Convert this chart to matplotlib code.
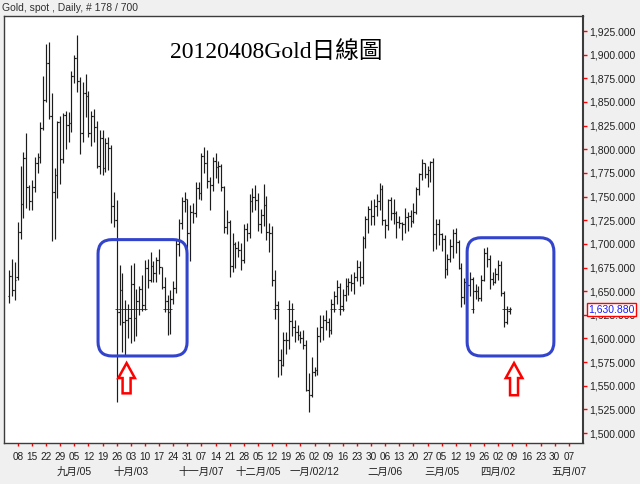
import numpy as np
import pandas as pd
import matplotlib
matplotlib.use("Agg")
import matplotlib.pyplot as plt
from matplotlib.patches import FancyBboxPatch, Polygon
from matplotlib.transforms import IdentityTransform, blended_transform_factory


# daily bars, Aug 03 2011 .. Apr 06 2012 (one value per business day)
START_DATE = "2011-08-03"
END_DATE = "2012-04-06"

OPEN = [
    # Aug
    1645, 1666, 1651, 1665, 1713, 1742, 1791, 1760, 1745, 1760, 1786, 1792, 1822, 1852, 1891, 1835, 1755, 1773, 1829, 1790, 1836,
    # Sep
    1826, 1828, 1877, 1896, 1872, 1817, 1860, 1856, 1817, 1835, 1824, 1782, 1812, 1780, 1807, 1801, 1740, 1725, 1628, 1651, 1617, 1620,
    # Oct
    1622, 1658, 1622, 1640, 1652, 1635, 1675, 1662, 1677, 1669, 1683, 1676, 1654, 1640, 1628, 1642, 1653, 1700, 1722, 1745, 1747,
    # Nov
    1712, 1734, 1733, 1759, 1754, 1793, 1786, 1766, 1762, 1788, 1781, 1782, 1760, 1718, 1723, 1677, 1700, 1696, 1694, 1683, 1716, 1711,
    # Dec
    1745, 1750, 1746, 1721, 1731, 1741, 1713, 1712, 1662, 1635, 1577, 1572, 1598, 1598, 1619, 1612, 1607, 1604, 1600, 1593, 1546, 1540,
    # Jan
    1565, 1567, 1603, 1612, 1620, 1617, 1609, 1636, 1645, 1654, 1634, 1646, 1655, 1660, 1659, 1665, 1676, 1665, 1706, 1726, 1737, 1730,
    # Feb
    1740, 1745, 1758, 1725, 1720, 1746, 1733, 1733, 1723, 1722, 1721, 1728, 1730, 1724, 1734, 1758, 1774, 1786, 1774, 1778, 1787,
    # Mar
    1710, 1721, 1710, 1705, 1673, 1684, 1698, 1712, 1702, 1675, 1644, 1660, 1657, 1663, 1650, 1650, 1643, 1662, 1690, 1684, 1663, 1660,
    # Apr
    1668, 1678, 1648, 1617, 1629,
]

HIGH = [
    1672, 1684, 1681, 1723, 1782, 1797, 1817, 1762, 1768, 1792, 1796, 1829, 1878, 1911, 1913, 1860, 1780, 1830, 1835, 1838, 1841,
    1839, 1883, 1900, 1921, 1876, 1871, 1880, 1862, 1840, 1843, 1830, 1820, 1820, 1812, 1813, 1805, 1755, 1746, 1678, 1669, 1641, 1636,
    1678, 1680, 1652, 1656, 1667, 1683, 1684, 1691, 1682, 1686, 1695, 1676, 1665, 1646, 1651, 1661, 1705, 1726, 1750, 1755, 1747,
    1741, 1743, 1765, 1765, 1796, 1802, 1799, 1771, 1792, 1796, 1788, 1784, 1761, 1736, 1725, 1711, 1702, 1703, 1701, 1721, 1722, 1753,
    1759, 1762, 1754, 1737, 1763, 1751, 1722, 1719, 1672, 1640, 1589, 1607, 1607, 1641, 1638, 1620, 1614, 1608, 1609, 1598, 1563, 1580,
    1570, 1612, 1625, 1625, 1630, 1622, 1642, 1650, 1662, 1659, 1652, 1664, 1664, 1668, 1670, 1683, 1682, 1708, 1729, 1740, 1746, 1747,
    1753, 1764, 1762, 1726, 1747, 1750, 1747, 1735, 1730, 1723, 1738, 1734, 1736, 1743, 1760, 1775, 1790, 1786, 1782, 1788, 1791,
    1726, 1726, 1712, 1709, 1689, 1705, 1716, 1717, 1704, 1680, 1664, 1665, 1670, 1665, 1658, 1656, 1667, 1696, 1697, 1688, 1670, 1674,
    1683, 1682, 1650, 1634, 1633,
]

LOW = [
    1637, 1645, 1641, 1662, 1705, 1727, 1738, 1736, 1736, 1755, 1775, 1786, 1820, 1850, 1832, 1703, 1705, 1749, 1763, 1785, 1800,
    1808, 1818, 1870, 1861, 1795, 1808, 1834, 1813, 1804, 1808, 1780, 1774, 1773, 1776, 1778, 1722, 1718, 1533, 1614, 1586, 1582, 1600,
    1595, 1597, 1603, 1625, 1629, 1630, 1653, 1660, 1660, 1660, 1668, 1652, 1628, 1604, 1605, 1636, 1648, 1687, 1716, 1734, 1695,
    1682, 1722, 1728, 1747, 1746, 1775, 1759, 1736, 1756, 1770, 1764, 1756, 1712, 1710, 1665, 1670, 1674, 1686, 1672, 1680, 1703, 1706,
    1734, 1736, 1714, 1711, 1719, 1704, 1691, 1656, 1621, 1559, 1561, 1571, 1584, 1589, 1603, 1596, 1598, 1595, 1589, 1545, 1522, 1538,
    1560, 1561, 1596, 1598, 1609, 1602, 1605, 1628, 1636, 1625, 1629, 1640, 1646, 1650, 1647, 1661, 1656, 1658, 1696, 1712, 1720, 1720,
    1730, 1736, 1720, 1706, 1715, 1725, 1721, 1706, 1717, 1704, 1712, 1714, 1718, 1722, 1732, 1752, 1768, 1770, 1760, 1765, 1692,
    1695, 1699, 1692, 1664, 1667, 1681, 1685, 1690, 1673, 1633, 1636, 1648, 1645, 1627, 1642, 1640, 1640, 1661, 1676, 1652, 1657, 1659,
    1662, 1645, 1612, 1615, 1626,
]

CLOSE = [
    1666, 1651, 1662, 1713, 1742, 1791, 1760, 1745, 1760, 1786, 1792, 1822, 1852, 1891, 1835, 1755, 1773, 1829, 1790, 1836, 1826,
    1828, 1877, 1896, 1872, 1817, 1860, 1856, 1817, 1835, 1824, 1782, 1812, 1780, 1807, 1801, 1740, 1725, 1628, 1651, 1617, 1620, 1622,
    1658, 1622, 1640, 1652, 1635, 1675, 1662, 1677, 1669, 1683, 1676, 1654, 1640, 1628, 1642, 1653, 1700, 1722, 1745, 1747, 1712,
    1734, 1733, 1759, 1754, 1793, 1786, 1766, 1762, 1788, 1781, 1782, 1760, 1718, 1723, 1677, 1700, 1696, 1694, 1683, 1716, 1711, 1745,
    1750, 1746, 1721, 1731, 1741, 1713, 1712, 1662, 1635, 1577, 1572, 1598, 1598, 1619, 1612, 1607, 1604, 1600, 1593, 1546, 1540, 1565,
    1567, 1603, 1612, 1620, 1617, 1609, 1636, 1645, 1654, 1634, 1646, 1655, 1660, 1659, 1665, 1676, 1665, 1706, 1726, 1737, 1730, 1740,
    1745, 1758, 1725, 1720, 1746, 1733, 1733, 1723, 1722, 1721, 1728, 1730, 1724, 1734, 1758, 1774, 1786, 1774, 1778, 1787, 1710,
    1721, 1710, 1705, 1673, 1684, 1698, 1712, 1702, 1675, 1644, 1660, 1657, 1663, 1650, 1650, 1643, 1662, 1690, 1684, 1663, 1660, 1668,
    1678, 1648, 1617, 1629, 1631,
]

LAST_PRICE = 1630.88
Y_TICKS = list(range(1500, 1926, 25))

WEEK_START = "2011-08-08"
WEEK_END = "2012-05-07"

MONTH_DATES = ["2011-09-05", "2011-10-03", "2011-11-07", "2011-12-05", "2012-01-02",
               "2012-02-06", "2012-03-05", "2012-04-02", "2012-05-07"]
MONTH_LABELS = ["九月/05", "十月/03", "十一月/07", "十二月/05", "一月/02/12",
                "二月/06", "三月/05", "四月/02", "五月/07"]

TITLE = "20120408Gold日線圖"
HEADER = "Gold, spot , Daily, # 178 / 700"

# highlight boxes (bar index from, bar index to, price low, price high)
BOXES = [(31.4, 62.9, 1581.5, 1704.5), (162.0, 192.7, 1581.5, 1706.5)]
# up arrows (bar index, tip price, base price)
ARROWS = [(41.5, 1574, 1542), (178.6, 1574, 1540)]


plt.rcParams["font.family"] = ["Liberation Sans", "Noto Sans CJK TC"]

calendar = pd.bdate_range(START_DATE, WEEK_END)
dates = pd.bdate_range(START_DATE, END_DATE)
x = calendar.get_indexer(dates).astype(float)

opens = np.array(OPEN)
highs = np.array(HIGH)
lows = np.array(LOW)
closes = np.array(CLOSE)

fig = plt.figure(figsize=(6.4, 4.84), dpi=100, facecolor="#f0f0f0")
ax = fig.add_axes([4 / 640, 1 - 443 / 484, 579 / 640, 427 / 484])
ax.set_facecolor("white")

bar_color = "#1c1c1c"

# small blue marks where a bar crosses the last price
cross = (lows <= LAST_PRICE) & (highs >= LAST_PRICE)
ax.hlines(np.full(cross.sum(), LAST_PRICE), x[cross] - 0.6, x[cross] + 0.6,
          color="#3030ff", lw=0.7, zorder=1)

ax.vlines(x, lows, highs, color=bar_color, lw=0.85, zorder=2)
ax.hlines(opens, x - 0.5, x, color=bar_color, lw=0.85, zorder=2)
ax.hlines(closes, x, x + 0.5, color=bar_color, lw=0.85, zorder=2)

ax.set_xlim(-1.88, 203)
ax.set_ylim(1489.5, 1940.9)

# right price axis
ax.yaxis.tick_right()
ax.set_yticks(Y_TICKS)
ax.set_yticklabels([f"{v:,.3f}" for v in Y_TICKS])
ax.tick_params(axis="y", direction="out", length=3, width=1, color="red",
               labelsize=7.5, labelcolor="#202020", pad=1.5)

# weekly x ticks
mondays = pd.date_range(WEEK_START, WEEK_END, freq="7D")
ax.set_xticks(calendar.get_indexer(mondays))
ax.set_xticklabels([d.strftime("%d") for d in mondays])
ax.tick_params(axis="x", direction="out", length=2.2, width=1, color="red",
               labelsize=7.2, labelcolor="#202020", pad=4.5)

xtrans = blended_transform_factory(ax.transData, ax.transAxes)
for d, lab in zip(MONTH_DATES, MONTH_LABELS):
    pos = calendar.get_loc(pd.Timestamp(d))
    ax.text(pos, -0.068, lab, transform=xtrans, ha="center", va="center",
            fontsize=7.5, color="#202020", clip_on=False)

for side in ["left", "top", "bottom"]:
    ax.spines[side].set_color("#3c3c3c")
    ax.spines[side].set_linewidth(1.0)
ax.spines["right"].set_color("#3c3c3c")
ax.spines["right"].set_linewidth(1.5)

# last price label (covers the 1,625 tick label as in the source chart)
ytrans = blended_transform_factory(ax.transAxes, ax.transData)
ax.text(1.0 + 5.5 / 579, LAST_PRICE, "1,630.880", transform=ytrans,
        ha="left", va="center", fontsize=7.5, color="#1a1aff", zorder=10,
        clip_on=False,
        bbox=dict(boxstyle="square,pad=0.12", fc="white", ec="red", lw=1.0))

ax.text(0.47, 0.916, TITLE, transform=ax.transAxes, ha="center", va="center",
        fontsize=17, color="black",
        family=["Liberation Serif", "Noto Sans CJK TC"])

fig.text(2 / 640, 1 - 8 / 484, HEADER, ha="left", va="center",
         fontsize=7.5, color="#303030")

# annotations drawn in display pixels, positioned from data coordinates
to_px = ax.transData
for x0, x1, p0, p1 in BOXES:
    (px0, py0), (px1, py1) = to_px.transform([(x0, p0), (x1, p1)])
    box = FancyBboxPatch((px0, py0), px1 - px0, py1 - py0,
                         boxstyle="round,pad=0,rounding_size=14",
                         transform=IdentityTransform(), fill=False,
                         ec="#3344cc", lw=2.2, zorder=5)
    fig.add_artist(box)

for xi, tip, base in ARROWS:
    (cx, ty), (_, by) = to_px.transform([(xi, tip), (xi, base)])
    head = 15
    hw = 8.3
    sw = 4.0
    pts = [(cx, ty), (cx + hw, ty - head), (cx + sw, ty - head), (cx + sw, by),
           (cx - sw, by), (cx - sw, ty - head), (cx - hw, ty - head)]
    arrow = Polygon(pts, closed=True, transform=IdentityTransform(),
                    fc="white", ec="red", lw=1.8, zorder=5)
    fig.add_artist(arrow)

fig.savefig("out.png", dpi=100, facecolor=fig.get_facecolor())
plt.close(fig)
